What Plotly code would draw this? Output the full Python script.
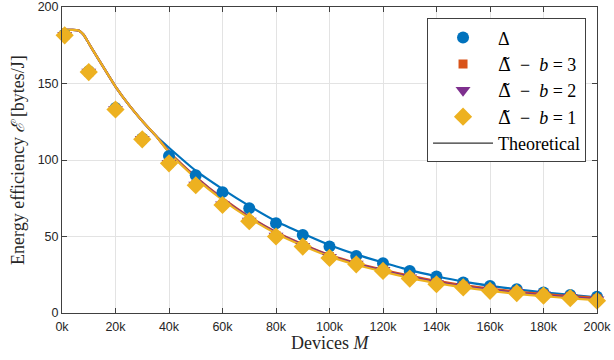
import plotly.graph_objects as go

# simulated points (devices M)
M_pts = [1000] + [k * 10000 for k in range(1, 21)]
delta_pts = [182, 158, 134, 114, 102.6, 90, 79, 68.5, 58.7, 51, 43.4, 37.2,
             32.5, 27.5, 23.8, 19.9, 17.7, 15.6, 13.4, 11.7, 10.6]
b3_pts = [181.5, 157.5, 133, 113.5, 98, 83.8, 71, 60.4, 50.5, 44, 36.8, 32.5,
          28.3, 23.4, 19.8, 17.8, 15.6, 14.2, 12.5, 10.9, 9.3]
b2_pts = [181.5, 157.5, 133, 113.5, 97.9, 83.6, 70.8, 60.2, 50.3, 43.7, 36.4,
          32.1, 27.9, 23, 19.3, 17.3, 15.1, 13.6, 11.9, 10.3, 8.7]
b1_pts = [181.5, 157.5, 133, 113.5, 97.8, 83.5, 70.6, 60, 50, 43.4, 36, 31.8,
          27.5, 22.5, 18.8, 16.7, 14.5, 13, 11.3, 9.7, 8]

# theoretical curves
M_th = [0, 4000, 6000, 7000, 8000, 9000, 10000, 12000, 15000, 20000, 25000, 30000,
        35000] + [k * 10000 for k in range(4, 21)]
th_common = [185, 185, 184.7, 183.8, 182, 179.3, 176.3, 170.5, 162, 148, 136, 125.5, 116]
th_delta = th_common + [108, 93, 81, 70, 60, 52, 44.5, 38.3, 33, 28, 24, 20.5,
                        17.8, 15.5, 13.5, 11.8, 10.3]
th_b3 = th_common + [105.5, 89, 75, 63, 53, 45, 38, 32.7, 28.3, 24.4, 21,
                     18.3, 16, 14, 12.5, 11, 9.9]
th_b2 = th_common + [105.3, 88.7, 74.6, 62.6, 52.6, 44.6, 37.6, 32.2, 27.7,
                     23.7, 20.2, 17.5, 15.2, 13.2, 11.6, 10.2, 9.1]
th_b1 = th_common + [105, 88, 74, 62, 52, 44, 37, 31.5, 27, 23, 19.5, 16.8,
                     14.5, 12.5, 11, 9.6, 8.4]

x_ticks = [k * 20000 for k in range(11)]
x_labels = [f"{k * 20}k" for k in range(11)]

BLUE = "#0072BD"
ORANGE = "#D95319"
PURPLE = "#7E2F8E"
YELLOW = "#EDB120"

fig = go.Figure()

for th, col in [(th_delta, BLUE), (th_b3, ORANGE), (th_b2, PURPLE), (th_b1, YELLOW)]:
    fig.add_trace(go.Scatter(x=M_th, y=th, mode="lines",
                             line=dict(color=col, width=2.2, shape="spline", smoothing=0.6),
                             showlegend=False, hoverinfo="skip", cliponaxis=False))

dt = '<span style="font-family:DejaVu Serif">Δ̃</span>'
series = [
    ("Δ", delta_pts, BLUE, "circle", 12),
    (dt + "  −  <i>b</i> = 3", b3_pts, ORANGE, "square", 9),
    (dt + "  −  <i>b</i> = 2", b2_pts, PURPLE, "triangle-down", 13),
    (dt + "  −  <i>b</i> = 1", b1_pts, YELLOW, "diamond", 14),
]
for name, vals, col, sym, sz in series:
    fig.add_trace(go.Scatter(x=M_pts, y=vals, mode="markers", name=name,
                             marker=dict(color=col, symbol=sym, size=sz, line=dict(width=0)),
                             cliponaxis=False))

fig.add_trace(go.Scatter(x=[None], y=[None], mode="lines", name="Theoretical",
                         line=dict(color="#333333", width=1.2)))

axis_common = dict(showline=True, linecolor="#404040", linewidth=1, mirror="ticks",
                   ticks="inside", ticklen=5, tickcolor="#404040", automargin=False,
                   showgrid=True, gridcolor="#e3e3e3", gridwidth=1, zeroline=False,
                   tickfont=dict(family="Liberation Sans", size=12.5, color="#262626"))

fig.update_xaxes(range=[0, 200000], tickvals=x_ticks, ticktext=x_labels,
                 ticklabelstandoff=2, **axis_common)
fig.update_yaxes(range=[0, 200], tickvals=[0, 50, 100, 150, 200],
                 title=dict(text="Energy efficiency <i>ℰ</i> [bytes/J]", standoff=8,
                            font=dict(family="Liberation Serif", size=18, color="#262626")),
                 **axis_common)

fig.add_annotation(text="Devices <i>M</i>", xref="paper", yref="paper",
                   x=0.5, y=-0.097, xanchor="center", yanchor="middle", showarrow=False,
                   font=dict(family="Liberation Serif", size=18, color="#262626"))

fig.update_layout(
    width=614, height=360,
    margin=dict(l=62, r=17, t=7, b=47),
    plot_bgcolor="white", paper_bgcolor="white",
    legend=dict(x=0.9795, y=0.963, xanchor="right", yanchor="top",
                bgcolor="white", bordercolor="#404040", borderwidth=1,
                font=dict(family="Liberation Serif", size=18, color="#000000"),
                tracegroupgap=0, itemwidth=60),
)

fig.write_html("out.html", config={"displayModeBar": False},
               post_script="document.body.style.margin='0';")
